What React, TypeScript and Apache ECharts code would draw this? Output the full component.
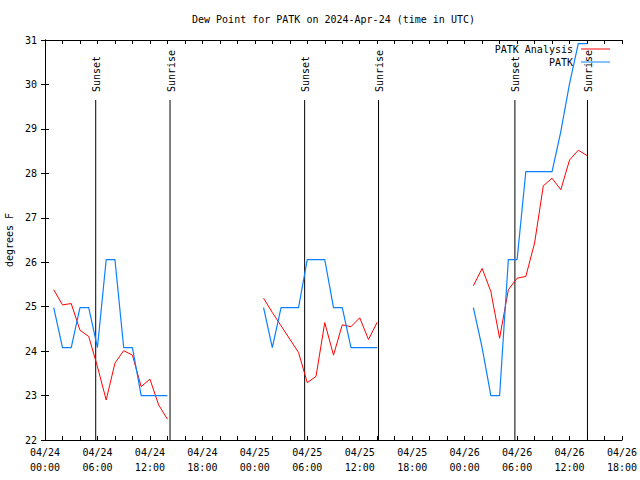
import React, { useEffect, useRef } from "react";
import * as echarts from "echarts";

// Hours since 2024-04-24 00:00 UTC
const hoursDay1 = [1, 2, 3, 4, 5, 6, 7, 8, 9, 10, 11, 12, 13, 14];
const hoursDay2 = [25, 26, 27, 28, 29, 30, 31, 32, 33, 34, 35, 36, 37, 38];
const hoursDay3 = [49, 50, 51, 52, 53, 54, 55, 56, 57, 58, 59, 60, 61, 62];

const analysisDay1 = [25.38, 25.04, 25.07, 24.47, 24.33, 23.65, 22.9, 23.73, 24.01, 23.91, 23.2, 23.37, 22.79, 22.47];
const analysisDay2 = [25.19, 24.87, 24.57, 24.27, 23.97, 23.29, 23.43, 24.64, 23.91, 24.59, 24.55, 24.75, 24.26, 24.65];
const analysisDay3 = [25.47, 25.86, 25.34, 24.29, 25.38, 25.64, 25.68, 26.43, 27.72, 27.89, 27.63, 28.3, 28.52, 28.4];

const obsDay1 = [24.98, 24.08, 24.08, 24.98, 24.98, 24.08, 26.06, 26.06, 24.08, 24.08, 23.0, 23.0, 23.0, 23.0];
const obsDay2 = [24.98, 24.08, 24.98, 24.98, 24.98, 26.06, 26.06, 26.06, 24.98, 24.98, 24.08, 24.08, 24.08, 24.08];
const obsDay3 = [24.98, 24.08, 23.0, 23.0, 26.06, 26.06, 28.04, 28.04, 28.04, 28.04, 28.94, 30.02, 30.92, 30.92];

const sunEventHours = [5.8, 14.3, 29.7, 38.15, 53.75, 62.05];
const sunEventLabels = ["Sunset", "Sunrise", "Sunset", "Sunrise", "Sunset", "Sunrise"];
const sunLineTop = 29.65;

const xTickLabels = [
  "04/24\n00:00", "04/24\n06:00", "04/24\n12:00", "04/24\n18:00",
  "04/25\n00:00", "04/25\n06:00", "04/25\n12:00", "04/25\n18:00",
  "04/26\n00:00", "04/26\n06:00", "04/26\n12:00", "04/26\n18:00",
];

const FONT = "DejaVu Sans Mono";

function buildSeriesData(segments: [number[], number[]][]) {
  const out: (number | string)[][] = [];
  segments.forEach(([hrs, vals], i) => {
    if (i > 0) out.push([hrs[0] - 1, "-"]);
    hrs.forEach((h, j) => out.push([h, vals[j]]));
  });
  return out;
}

export default function App() {
  const ref = useRef<HTMLDivElement>(null);
  useEffect(() => {
    if (!ref.current) return;
    const chart = echarts.init(ref.current, undefined, { renderer: "svg" });
    const axisLine = { show: true, lineStyle: { color: "#000", width: 1 } };
    const tick = { show: true, inside: true, length: 4, lineStyle: { color: "#000" } };
    chart.setOption({
      animation: false,
      backgroundColor: "#fff",
      title: {
        text: "Dew Point for PATK on 2024-Apr-24 (time in UTC)",
        left: 192,
        top: 14,
        padding: 0,
        textStyle: { fontFamily: FONT, fontSize: 10, fontWeight: "normal", color: "#000" },
      },
      legend: {
        orient: "vertical",
        right: 30,
        top: 43,
        align: "right",
        icon: "rect",
        itemWidth: 29,
        itemHeight: 1,
        itemGap: 1,
        padding: 0,
        data: ["PATK Analysis", "PATK"],
        textStyle: { fontFamily: FONT, fontSize: 10, color: "#000", padding: [0, 3, 0, 0], lineHeight: 12 },
      },
      grid: { left: 45, right: 18, top: 40, bottom: 40, outerBoundsMode: "none", containLabel: false },
      xAxis: [
        {
          type: "value",
          min: 0,
          max: 66,
          interval: 2,
          position: "bottom",
          axisLine,
          axisTick: tick,
          splitLine: { show: false },
          axisLabel: {
            margin: 5,
            fontFamily: FONT,
            fontSize: 10,
            lineHeight: 15,
            color: "#000",
            formatter: (v: number) => (v % 6 === 0 ? xTickLabels[v / 6] : ""),
          },
        },
        {
          type: "value",
          min: 0,
          max: 66,
          interval: 2,
          position: "top",
          axisLine,
          axisTick: tick,
          splitLine: { show: false },
          axisLabel: { show: false },
        },
      ],
      yAxis: [
        {
          type: "value",
          min: 22,
          max: 31,
          interval: 1,
          position: "left",
          name: "degrees F",
          nameLocation: "middle",
          nameGap: 29,
          nameRotate: 90,
          nameTextStyle: { fontFamily: FONT, fontSize: 10, color: "#000" },
          axisLine,
          axisTick: tick,
          splitLine: { show: false },
          axisLabel: { margin: 8, fontFamily: FONT, fontSize: 10, color: "#000" },
        },
        {
          type: "value",
          min: 22,
          max: 31,
          interval: 1,
          position: "right",
          axisLine,
          axisTick: tick,
          splitLine: { show: false },
          axisLabel: { show: false },
        },
      ],
      series: [
        {
          type: "custom",
          xAxisIndex: 0,
          yAxisIndex: 0,
          silent: true,
          data: sunEventHours.map((h, i) => [h, i]),
          renderItem: (params: any, api: any) => {
            const t = api.value(0);
            const idx = api.value(1);
            const top = api.coord([t, sunLineTop]);
            const bottom = api.coord([t, 22]);
            return {
              type: "group",
              children: [
                {
                  type: "line",
                  shape: { x1: top[0], y1: top[1], x2: bottom[0], y2: bottom[1] },
                  style: { stroke: "#000", lineWidth: 1 },
                },
                {
                  type: "text",
                  x: top[0] + 1,
                  y: top[1] - 8,
                  rotation: Math.PI / 2,
                  style: {
                    text: sunEventLabels[idx],
                    fontFamily: FONT,
                    fontSize: 10,
                    fill: "#000",
                    align: "left",
                    verticalAlign: "middle",
                  },
                },
              ],
            };
          },
        },
        {
          name: "PATK Analysis",
          type: "line",
          xAxisIndex: 0,
          yAxisIndex: 0,
          symbol: "none",
          connectNulls: false,
          color: "#ff0000",
          lineStyle: { color: "#ff0000", width: 1 },
          data: buildSeriesData([
            [hoursDay1, analysisDay1],
            [hoursDay2, analysisDay2],
            [hoursDay3, analysisDay3],
          ]),
        },
        {
          name: "PATK",
          type: "line",
          xAxisIndex: 0,
          yAxisIndex: 0,
          symbol: "none",
          connectNulls: false,
          color: "#0a80ff",
          lineStyle: { color: "#0a80ff", width: 1.2 },
          data: buildSeriesData([
            [hoursDay1, obsDay1],
            [hoursDay2, obsDay2],
            [hoursDay3, obsDay3],
          ]),
        },
      ],
    });
    return () => chart.dispose();
  }, []);
  return <div ref={ref} style={{ width: 640, height: 480, position: "absolute", left: 0, top: 0 }} />;
}
